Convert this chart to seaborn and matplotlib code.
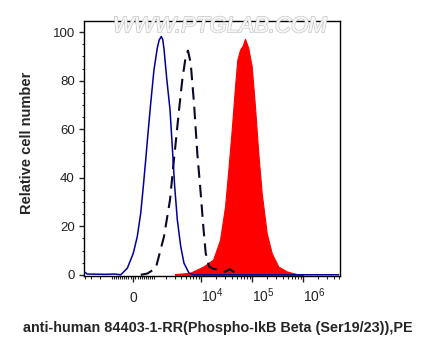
import numpy as np
import pandas as pd
import seaborn as sns
import matplotlib.pyplot as plt
import matplotlib.patheffects as pe
from matplotlib.ticker import FixedLocator, NullFormatter

# Isotype control (blue, solid)
blue_x = [-4150, -3600, -1500, -843, -543, -242, 12.6, 181, 330, 448, 563, 679, 825,
          1018, 1237, 1374, 1537, 1656, 1771, 2025, 2386, 2656, 2981, 3373, 3954,
          4597, 5785, 7273, 15000, 100000, 5000000]
blue_y = [1.2, 0.3, 0.2, 0.3, 0.0, 2.7, 8.9, 15.8, 25.4, 36.4, 47.4, 58.4, 70.7,
          84.5, 93.5, 96.8, 98.2, 97.0, 93.0, 81.0, 68.0, 52.9, 36.4, 22.7, 11.7,
          4.8, 0.7, 0.0, 0.0, 0.0, 0.0]

# Unstained / secondary only (dashed)
dash_x = [330, 643, 1133, 1771, 2386, 2782, 3125, 3658, 4253, 4977, 5524, 6257,
          7273, 8450, 9850, 11090, 12370, 14370, 17220, 23620, 29570, 37070,
          46500, 58300]
dash_y = [0.0, 0.5, 2.7, 15.8, 30.9, 44.6, 54.3, 68.0, 80.3, 90.0, 92.4, 87.2,
          70.7, 50.1, 33.7, 19.9, 8.9, 3.4, 2.5, 2.0, 1.2, 2.3, 0.8, 0.0]

# Antibody stained (red, filled)
red_x = [3020, 6055, 11090, 17220, 23620, 29570, 34330, 40060, 46500, 51600,
         58300, 65850, 73000, 84700, 98850, 114700, 133200, 155300, 194600,
         244100, 328800, 480000, 754000, 1000000]
red_y = [0.3, 0.8, 3.4, 6.2, 14.4, 28.0, 43.0, 59.7, 77.6, 88.6, 92.7, 94.5,
         97.3, 93.5, 86.0, 69.3, 50.1, 33.7, 17.2, 8.9, 3.4, 1.4, 0.3, 0.0]

major_ticks = [0, 1e4, 1e5, 1e6]
major_labels = ["0", "$10^4$", "$10^5$", "$10^6$"]

W = 930.0


def fwd(x):
    return np.arcsinh(np.asarray(x) / W)


def inv(y):
    return W * np.sinh(np.asarray(y))


sns.set_style("ticks")
plt.rcParams['font.family'] = ['Liberation Sans', 'DejaVu Sans']
plt.rcParams['mathtext.fontset'] = 'custom'
plt.rcParams['mathtext.rm'] = 'Liberation Sans'
plt.rcParams['mathtext.it'] = 'Liberation Sans:italic'
plt.rcParams['mathtext.bf'] = 'Liberation Sans:bold'

fig = plt.figure(figsize=(4.23, 3.56), dpi=100)
ax = fig.add_axes([0.1986, 0.2247, 0.6052, 0.7163])

ax.fill_between(red_x, red_y, 0, color="#ff0000", lw=0.8, zorder=1)
sns.lineplot(x=dash_x, y=dash_y, ax=ax, color="#0a0a28", lw=1.5, sort=False,
             zorder=2).lines[-1].set_dashes([6, 3.4])
sns.lineplot(x=blue_x, y=blue_y, ax=ax, color="#00009a", lw=1.1, sort=False, zorder=3)

ax.set_xscale('function', functions=(fwd, inv))
ax.set_xlim(-4200, 5.33e6)
ax.set_ylim(-0.5, 104.6)

minor = []
for k in range(1, 10):
    minor += [-k * 100]
for k in range(1, 5):
    minor += [-k * 1000]
for e in [100, 1000, 10000, 100000, 1000000]:
    for k in range(1, 10):
        v = k * e
        if v < 5.3e6 and v not in major_ticks:
            minor.append(v)
ax.xaxis.set_major_locator(FixedLocator(major_ticks))
ax.xaxis.set_minor_locator(FixedLocator(minor))
ax.xaxis.set_minor_formatter(NullFormatter())
ax.set_xticklabels(major_labels)
ax.set_yticks([0, 20, 40, 60, 80, 100])
ax.yaxis.set_minor_locator(FixedLocator(np.arange(0, 105, 5)))

ax.tick_params(axis='x', which='major', direction='out', length=4, width=1,
               pad=14.5, labelsize=10, colors='#222222')
ax.tick_params(axis='x', which='minor', direction='out', length=2.2, width=0.8)
ax.tick_params(axis='y', which='major', direction='out', length=3.6, width=1,
               pad=3, labelsize=9.5, colors='#222222')
ax.tick_params(axis='y', which='minor', direction='out', length=1.8, width=0.8)
for i, lab in enumerate(ax.get_xticklabels()):
    lab.set_verticalalignment('baseline')
    if i > 0:
        lab.set_horizontalalignment('left')

for s in ax.spines.values():
    s.set_linewidth(1.0)
    s.set_color('black')

ax.set_xlabel("")
ax.set_ylabel("")
fig.text(0.064, 0.598, "Relative cell number", rotation=90, ha='center', va='center',
         fontsize=10.5, fontweight='bold')
fig.text(0.516, 0.079, "anti-human 84403-1-RR(Phospho-IkB Beta (Ser19/23)),PE",
         ha='center', va='center', fontsize=10.4, fontweight='bold')

wm = fig.text(0.52, 0.925, "WWW.PTGLAB.COM", ha='center', va='center', fontsize=16,
              style='italic', color='#f6f6f6', zorder=10)
wm.set_path_effects([pe.withStroke(linewidth=1.2, foreground='#c8c8c8'), pe.Normal()])

fig.savefig("out.png", dpi=100)
